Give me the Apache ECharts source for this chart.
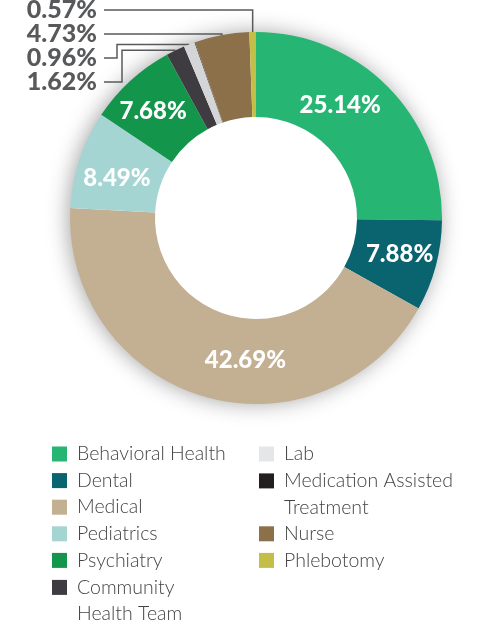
<!DOCTYPE html>
<html><head><meta charset="utf-8">
<script src="https://cdn.jsdelivr.net/npm/echarts@6/dist/echarts.min.js"></script>
<style>html,body{margin:0;padding:0;background:#fff}#c{width:478px;height:627px}</style>
</head><body><div id="c"></div>
<script>
// ---- data ----
const categories = ['Behavioral Health','Dental','Medical','Pediatrics','Psychiatry','Community Health Team','Lab','Medication Assisted Treatment','Nurse','Phlebotomy'];
const shares = [25.14, 7.88, 42.69, 8.49, 7.68, 1.62, 0.96, 0.05, 4.73, 0.57];
const legendLabels = ['Behavioral Health','Dental','Medical','Pediatrics','Psychiatry','\nCommunity\nHealth Team','Lab','\nMedication Assisted\nTreatment','Nurse','Phlebotomy'];
const colors = ['#27b573','#0a6470','#c3b093','#a5d5d2','#13964b','#3e3c40','#d4d5d7','#231f20','#8c704a','#c2be48'];
const legendColors = ['#27b573','#0a6470','#c3b093','#a5d5d2','#13964b','#3e3c40','#e5e6e8','#231f20','#8c704a','#c2be48'];

// ---- style / layout ----
const CX = 256, CY = 218, R_OUT = 186, R_IN = 101;
const LABEL_FONT = "Lato, 'Open Sans', sans-serif";
const LEGEND_FONT = "Lato, 'Open Sans', sans-serif";
const LH = 26.6;
const outsideIdx = {5: {y: 82, elbow: 122}, 6: {y: 58, elbow: 117}, 8: {y: 34}, 9: {y: 10}};
const hiddenIdx = {7: true};
const nudges = {0: [-20, -10], 1: [2, -1], 2: [30, 2], 3: [0, 6], 4: [-4, 1]};

const data = categories.map((name, i) => {
  const item = {name: name, value: shares[i], itemStyle: {color: colors[i]}};
  if (outsideIdx[i]) {
    item.label = {show: true, position: 'outside', color: '#58595b', fontSize: 25};
    item.labelLine = {show: true};
  } else if (hiddenIdx[i]) {
    item.label = {show: false};
    item.labelLine = {show: false};
  }
  return item;
});

function makeLegend(idxs, left, top) {
  return {
    orient: 'vertical', left: left, top: top, padding: 0, itemGap: 0,
    itemWidth: 15, itemHeight: 15, selectedMode: false,
    data: idxs.map(i => ({name: categories[i], icon: 'rect', itemStyle: {color: legendColors[i]}})),
    formatter: name => legendLabels[categories.indexOf(name)],
    textStyle: {fontFamily: LEGEND_FONT, fontWeight: 300, fontSize: 19.5, color: '#444446', lineHeight: LH, padding: [0, 0, 0, 5]}
  };
}

const chart = echarts.init(document.getElementById('c'), null, {renderer: 'canvas'});
chart.setOption({
  animation: false,
  backgroundColor: '#ffffff',
  graphic: [{
    type: 'circle', z: -10, silent: true,
    shape: {cx: CX, cy: CY, r: R_OUT - 1},
    style: {fill: '#ffffff', shadowBlur: 22, shadowColor: 'rgba(0,0,0,0.38)', shadowOffsetX: -2, shadowOffsetY: 0}
  }],
  legend: [
    makeLegend([0,1,2,3,4], 52, 440.7),
    makeLegend([5], 52, 547.5),
    makeLegend([6], 259, 440.7),
    makeLegend([7], 259, 441),
    makeLegend([8,9], 259, 520.5)
  ],
  series: [{
    type: 'pie',
    center: [CX, CY],
    radius: [R_IN, R_OUT],
    startAngle: 90,
    clockwise: true,
    avoidLabelOverlap: false,
    itemStyle: {borderWidth: 0},
    label: {
      show: true, position: 'inside', color: '#ffffff',
      fontFamily: LABEL_FONT, fontWeight: 900, fontSize: 24,
      formatter: p => p.value.toFixed(2) + '%'
    },
    labelLine: {show: false, length: 10, length2: 10, lineStyle: {color: '#58595b', width: 1.5}},
    labelLayout: function (p) {
      const o = outsideIdx[p.dataIndex];
      if (o) {
        const a = (p.labelLinePoints && p.labelLinePoints[0]) || [CX, CY - R_OUT];
        const startX = 104;
        let pts;
        if (o.elbow) {
          pts = [[a[0], a[1]], [o.elbow, a[1]], [o.elbow, o.y], [startX, o.y]];
        } else {
          pts = [[a[0], a[1]], [a[0], o.y], [startX, o.y]];
        }
        return {x: 97, y: o.y, align: 'right', verticalAlign: 'middle', labelLinePoints: pts};
      }
      const n = nudges[p.dataIndex];
      if (n) return {dx: n[0], dy: n[1]};
      return {};
    },
    data: data
  }]
});
</script>
</body></html>
